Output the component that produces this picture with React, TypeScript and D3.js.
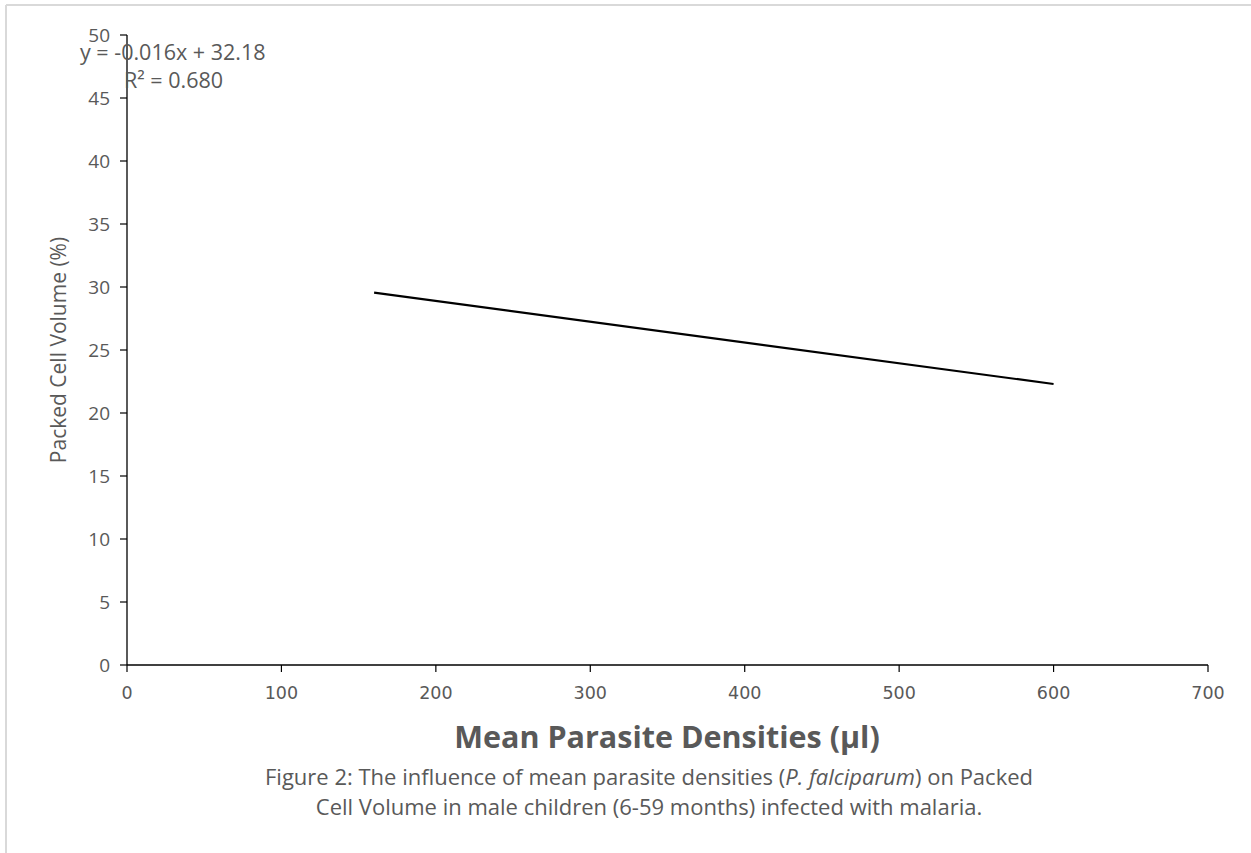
import React from "react";
import * as d3 from "d3";

const xTicks = [0, 100, 200, 300, 400, 500, 600, 700];
const yTicks = [0, 5, 10, 15, 20, 25, 30, 35, 40, 45, 50];
const trendX = [160, 600];
const trendY = [29.55, 22.3];
const equationText = "y = -0.016x + 32.18";
const r2Text = "R² = 0.680";
const xTitle = "Mean Parasite Densities (µl)";
const yTitle = "Packed Cell Volume (%)";

export default function App() {
  const W = 1251, H = 853;
  const x = d3.scaleLinear().domain([0, 700]).range([127, 1208]);
  const y = d3.scaleLinear().domain([0, 50]).range([665, 35]);
  const pts = trendX.map((v, i) => [v, trendY[i]] as [number, number]);
  const line = d3.line<[number, number]>().x(d => x(d[0])).y(d => y(d[1]));
  const font = "'Open Sans', 'Noto Sans', sans-serif";
  const gray = "#595959";
  return (
    <svg width={W} height={H} style={{ position: "absolute", left: 0, top: 0, background: "#fff" }}>
      <line x1={6} y1={5} x2={W} y2={5} stroke="#d9d9d9" strokeWidth={2} />
      <line x1={6} y1={5} x2={6} y2={H} stroke="#d9d9d9" strokeWidth={2} />
      {/* axes */}
      <line x1={x(0)} y1={y(0)} x2={x(700)} y2={y(0)} stroke="#000" strokeWidth={1.3} />
      <line x1={x(0)} y1={y(0)} x2={x(0)} y2={y(50)} stroke="#000" strokeWidth={1.3} />
      {xTicks.map(t => (
        <g key={"x" + t}>
          <line x1={x(t)} x2={x(t)} y1={y(0)} y2={y(0) + 7} stroke="#000" strokeWidth={1.2} />
          <text x={x(t)} y={y(0) + 34} textAnchor="middle" fontFamily="'DejaVu Sans', Verdana, sans-serif" fontSize={17.5} fill={gray}>{t}</text>
        </g>
      ))}
      {yTicks.map(t => (
        <g key={"y" + t}>
          <line x1={x(0) - 7} x2={x(0)} y1={y(t)} y2={y(t)} stroke="#000" strokeWidth={1.2} />
          <text x={110} y={y(t) + 7} textAnchor="end" fontFamily={font} fontSize={19} fill={gray}>{t}</text>
        </g>
      ))}
      <path d={line(pts) || ""} fill="none" stroke="#000" strokeWidth={2.2} />
      <text x={80} y={60} fontFamily={font} fontSize={21.5} fill={gray}>{equationText}</text>
      <text x={124} y={88} fontFamily={font} fontSize={21.5} fill={gray}>{r2Text}</text>
      <text transform={`translate(66,${y(25)}) rotate(-90)`} textAnchor="middle" fontFamily={font} fontSize={21} fill={gray}>{yTitle}</text>
      <text x={667} y={748} textAnchor="middle" fontFamily={font} fontSize={30.5} fontWeight="bold" fill={gray}>{xTitle}</text>
      <text x={649} y={785} textAnchor="middle" fontFamily={font} fontSize={22} fill={gray}>
        Figure 2: The influence of mean parasite densities (<tspan fontStyle="italic">P. falciparum</tspan>) on Packed
      </text>
      <text x={649} y={815} textAnchor="middle" fontFamily={font} fontSize={22} fill={gray}>
        Cell Volume in male children (6-59 months) infected with malaria.
      </text>
    </svg>
  );
}
